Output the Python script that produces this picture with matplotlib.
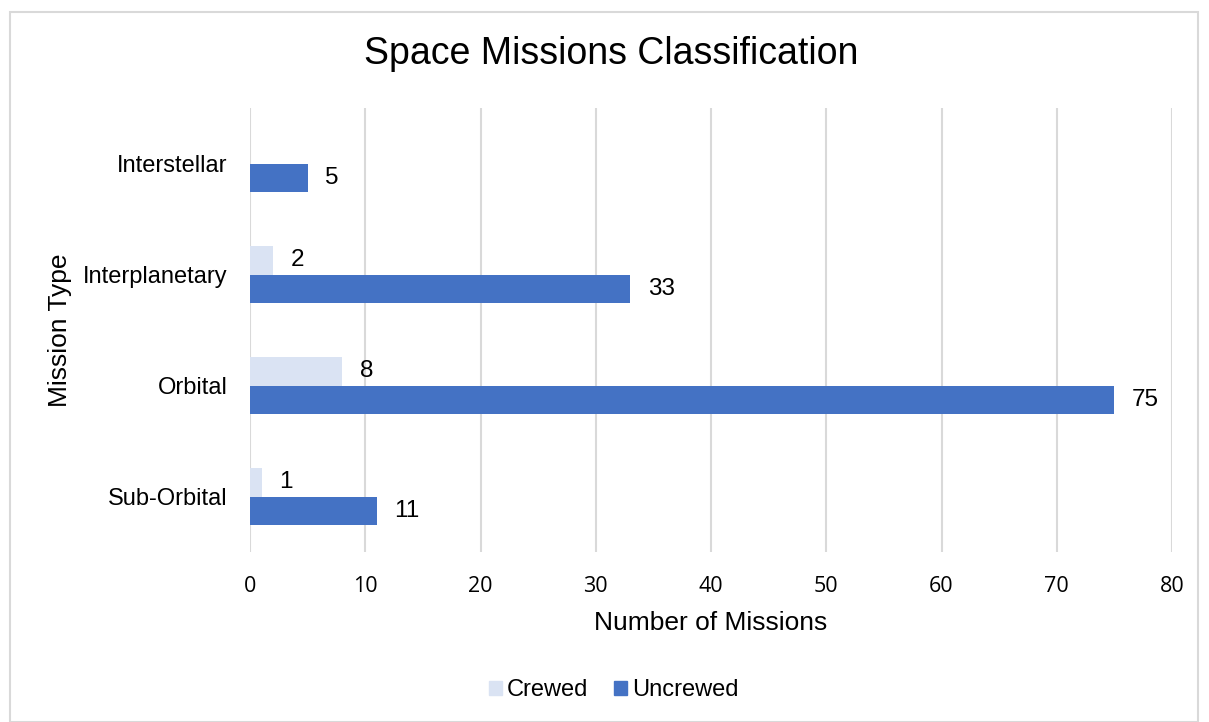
import matplotlib
matplotlib.use("Agg")
import matplotlib.pyplot as plt
from matplotlib.patches import Rectangle, Patch

# DATA
categories = ["Sub-Orbital", "Orbital", "Interplanetary", "Interstellar"]
crewed = [1, 8, 2, 0]
uncrewed = [11, 75, 33, 5]
x_ticks = [0, 10, 20, 30, 40, 50, 60, 70, 80]

CREW_COL = "#dae3f3"
UNCREW_COL = "#4472c4"
GRID_COL = "#d9d9d9"

plt.rcParams["font.family"] = ["Liberation Sans", "DejaVu Sans"]

W, H = 1209, 722
fig = plt.figure(figsize=(W / 100, H / 100), dpi=100)

# figure border
fig.patches.append(Rectangle((10 / W, 0), 1188 / W, 1 - 12 / H, transform=fig.transFigure,
                             fill=False, edgecolor=GRID_COL, linewidth=1.5))

ax = fig.add_axes([250 / W, 1 - 552 / H, 922 / W, 444 / H])

y = list(range(len(categories)))
h = 0.26
ax.barh([v + h / 2 for v in y], crewed, height=h, color=CREW_COL, zorder=2)
ax.barh([v - h / 2 for v in y], uncrewed, height=h, color=UNCREW_COL, zorder=2)

for i, v in enumerate(crewed):
    if v > 0:
        ax.annotate(str(v), (v, i + h / 2), xytext=(12.5, 0), textcoords="offset points",
                    va="center", ha="left", fontsize=17.5)
for i, v in enumerate(uncrewed):
    ax.annotate(str(v), (v, i - h / 2), xytext=(12.5, 0), textcoords="offset points",
                va="center", ha="left", fontsize=17.5)

ax.set_xlim(0, 80)
ax.set_ylim(-0.5, 3.5)
ax.set_xticks(x_ticks)
ax.set_xticklabels([str(t) for t in x_ticks], family=["Open Sans", "DejaVu Sans"], fontsize=15.5)
ax.set_yticks(y)
ax.set_yticklabels(categories, fontsize=17)
ax.tick_params(length=0)
ax.tick_params(axis="x", pad=17)
ax.tick_params(axis="y", pad=16)
ax.grid(axis="x", color=GRID_COL, linewidth=1.5, zorder=0)
ax.set_axisbelow(True)
for s in ax.spines.values():
    s.set_visible(False)

ax.set_xlabel("Number of Missions", fontsize=19, labelpad=10)
fig.text(60 / W, 1 - 330 / H, "Mission Type", rotation=90, fontsize=19, ha="center", va="center")

fig.text(611.5 / W, 1 - 54 / H, "Space Missions Classification", fontsize=27, ha="center", va="center")

handles = [Patch(color=CREW_COL, label="Crewed"), Patch(color=UNCREW_COL, label="Uncrewed")]
fig.legend(handles=handles, loc="center", bbox_to_anchor=(614 / W, 1 - 690 / H), ncol=2,
           frameon=False, fontsize=17, handlelength=0.55, handleheight=0.55,
           handletextpad=0.2, columnspacing=1.1)

fig.savefig("out.png", dpi=100)
